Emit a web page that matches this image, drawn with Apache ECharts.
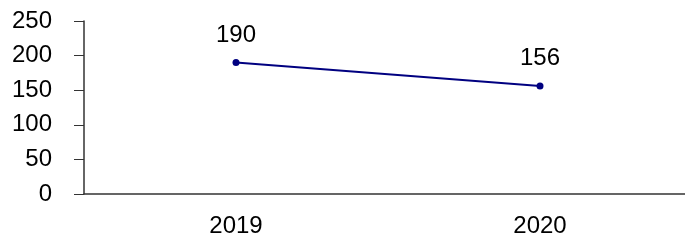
<!DOCTYPE html>
<html>
<head>
<meta charset="utf-8">
<script src="https://cdn.jsdelivr.net/npm/echarts@6/dist/echarts.min.js"></script>
<style>
  html, body { margin: 0; padding: 0; background: #fff; }
  #chart { width: 685px; height: 240px; }
</style>
</head>
<body>
<div id="chart"></div>
<script>
var years = ['2019', '2020']
var values = [190, 156]

var chart = echarts.init(document.getElementById('chart'))
var font = 'Liberation Sans, Arial, sans-serif'

chart.setOption({
  animation: false,
  grid: { left: 84, width: 608, top: 21, bottom: 46, outerBoundsMode: 'none' },
  xAxis: {
    type: 'category',
    data: years,
    boundaryGap: true,
    axisLine: { lineStyle: { color: '#333', width: 1.5 } },
    axisTick: { length: 6, lineStyle: { color: '#555' } },
    axisLabel: { color: '#000', fontFamily: font, fontSize: 24, margin: 20 }
  },
  yAxis: {
    type: 'value',
    min: 0,
    max: 250,
    interval: 50,
    splitLine: { show: false },
    axisLine: { show: true, lineStyle: { color: '#333', width: 1.5 } },
    axisTick: { show: true, length: 10, lineStyle: { color: '#333' } },
    axisLabel: { color: '#000', fontFamily: font, fontSize: 24, margin: 32 }
  },
  series: [{
    type: 'line',
    data: values,
    symbol: 'circle',
    symbolSize: 7,
    lineStyle: { color: '#000080', width: 2 },
    itemStyle: { color: '#000080' },
    label: {
      show: true,
      position: 'top',
      distance: 12,
      color: '#000',
      fontFamily: font,
      fontSize: 24
    }
  }]
})
</script>
</body>
</html>
